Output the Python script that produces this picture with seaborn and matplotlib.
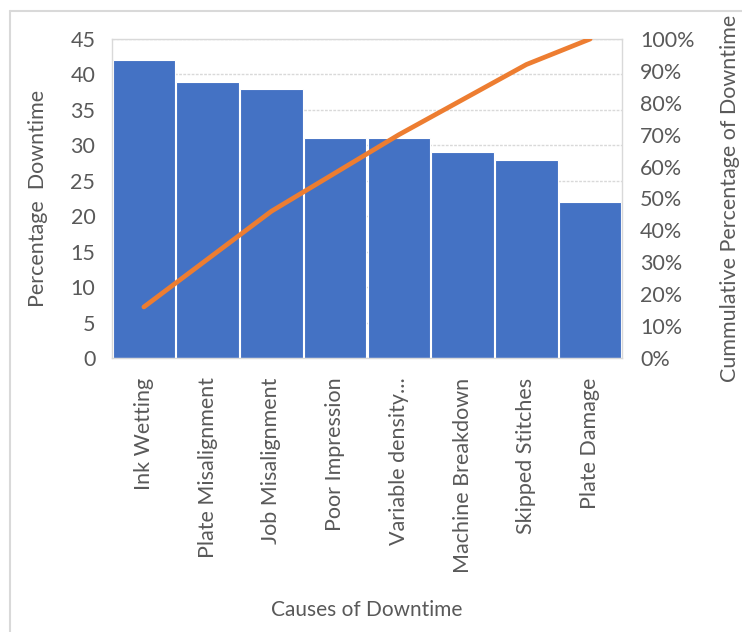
import numpy as np
import matplotlib
matplotlib.use("Agg")
import matplotlib.pyplot as plt
import seaborn as sns
from matplotlib.lines import Line2D
from matplotlib.ticker import FuncFormatter

# values
causes = ["Ink Wetting", "Plate Misalignment", "Job Misalignment", "Poor Impression",
          "Variable density...", "Machine Breakdown", "Skipped Stitches", "Plate Damage"]
downtime = [42, 39, 38, 31, 31, 29, 28, 22]
cumulative_pct = [16, 31, 46, 58, 70, 81, 92, 100]

sns.set_theme(style="white")
plt.rcParams['font.family'] = ['Lato', 'DejaVu Sans']

TEXT = "#595959"
BAR = "#4472C4"
LINE = "#ED7D31"
GRID = "#d9d9d9"

fig = plt.figure(figsize=(7.42, 6.32), dpi=100)
ax = fig.add_axes([112 / 742, 1 - 358 / 632, (622 - 112) / 742, (358 - 39) / 632])

sns.barplot(x=causes, y=downtime, color=BAR, saturation=1, width=0.98,
            edgecolor="white", linewidth=0.8, ax=ax)
ax.set_ylim(0, 45)
ax.set_yticks(range(0, 46, 5))
ax.set_xlim(-0.5, len(causes) - 0.5)
ax.yaxis.grid(True, color=GRID, linewidth=1.0, linestyle=(0, (2, 1)))
ax.set_axisbelow(True)
for side in ["top", "right", "left", "bottom"]:
    ax.spines[side].set_color(GRID)
    ax.spines[side].set_linewidth(1.0)
ax.tick_params(axis="y", length=0, pad=12, labelsize=15.5, labelcolor=TEXT)
ax.tick_params(axis="x", length=0, pad=14, labelsize=15.5, labelcolor=TEXT)
plt.setp(ax.get_xticklabels(), rotation=90, va="top", ha="center")
ax.set_ylabel("Percentage  Downtime", fontsize=15.5, color=TEXT, labelpad=16)
ax.set_xlabel("Causes of Downtime", fontsize=15, color=TEXT, labelpad=20)

ax2 = ax.twinx()
sns.lineplot(x=np.arange(len(causes)), y=cumulative_pct, color=LINE, linewidth=3.4,
             ax=ax2, solid_capstyle="round")
ax2.set_ylim(0, 100)
ax2.set_yticks(range(0, 101, 10))
ax2.yaxis.set_major_formatter(FuncFormatter(lambda v, p: f"{int(v)}%"))
ax2.tick_params(axis="y", length=0, pad=13, labelsize=15.5, labelcolor=TEXT)
ax2.set_ylabel("Cummulative Percentage of Downtime", fontsize=15.5, color=TEXT, labelpad=18)
for side in ["top", "right", "left", "bottom"]:
    ax2.spines[side].set_visible(False)
ax2.set_xlim(-0.5, len(causes) - 0.5)

# outer chart frame (top and left edges visible)
fig.add_artist(Line2D([10 / 742, 1], [1 - 11 / 632, 1 - 11 / 632], color=GRID, linewidth=1.5))
fig.add_artist(Line2D([10 / 742, 10 / 742], [0, 1 - 11 / 632], color=GRID, linewidth=1.5))

fig.savefig("out.png", dpi=100)
